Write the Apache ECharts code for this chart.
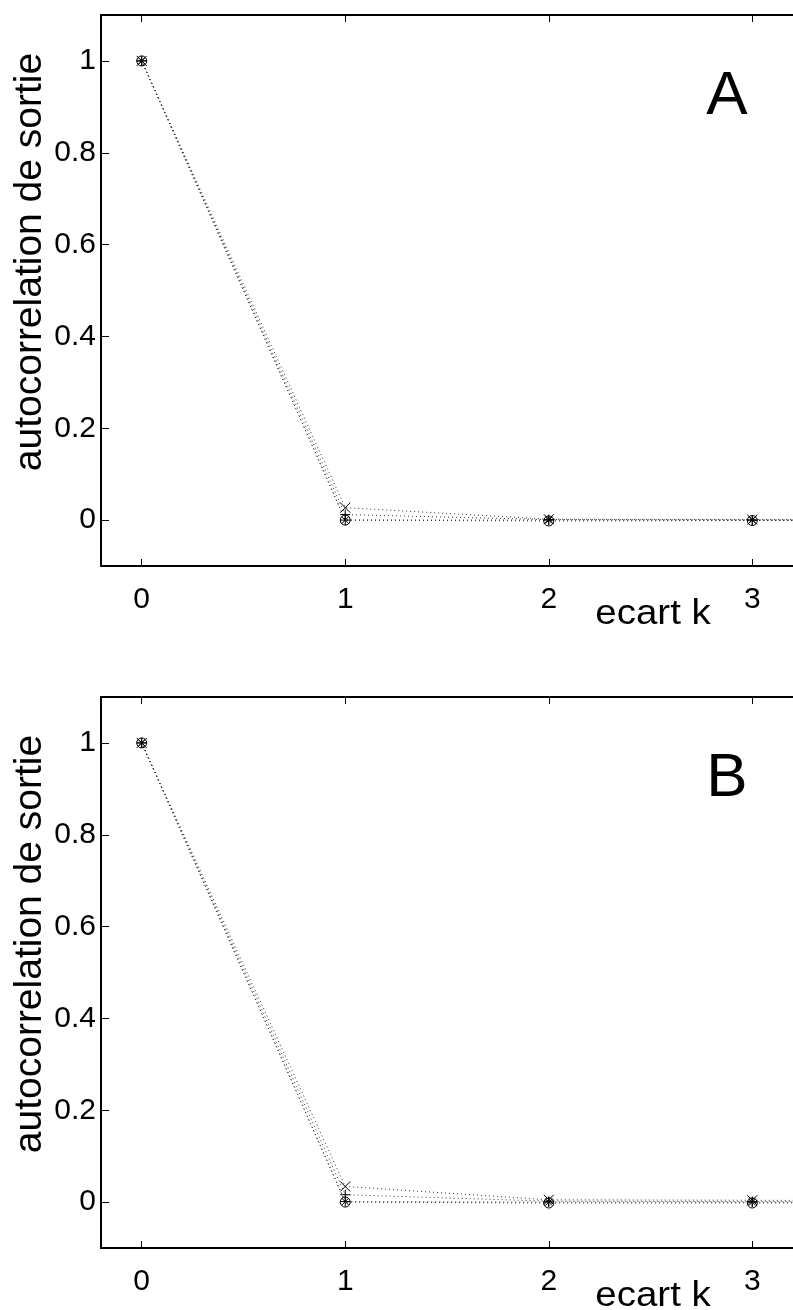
<!DOCTYPE html>
<html>
<head>
<meta charset="utf-8">
<script src="https://cdn.jsdelivr.net/npm/echarts@6/dist/echarts.min.js"></script>
<style>
    html, body { margin: 0; padding: 0; background: #fff; }
    #chart { width: 793px; height: 1310px; }
</style>
</head>
<body>
<div id="chart"></div>
<script>
    // ecart k (le dernier point sort du cadre a droite)
    var lags = [0, 1, 2, 3, 4];
    var xTicks = [0, 1, 2, 3];
    var yTicks = [0, 0.2, 0.4, 0.6, 0.8, 1];

    // panneau A
    var aCross = [1, 0.027, 0.002, 0.001, 0.001];
    var aPlus = [1, 0.012, 0.001, 0.0, 0.0];
    var aCircle = [1, 0.0, -0.002, -0.001, -0.001];
    var aStar = [1, 0.0, 0.0, 0.0, 0.0];

    // panneau B
    var bCross = [1, 0.034, 0.005, 0.004, 0.002];
    var bPlus = [1, 0.016, 0.002, 0.001, 0.001];
    var bCircle = [1, 0.0, -0.002, -0.002, -0.001];
    var bStar = [1, 0.001, 0.0, 0.0, 0.0];

    var FONT = '"Liberation Sans", Arial, Helvetica, sans-serif';
    var symbols = {
        cross: 'path://M0,0L10,10M10,0L0,10',
        plus: 'path://M5,0L5,10M0,5L10,5',
        star: 'path://M5,0L5,10M0,5L10,5M1.5,1.5L8.5,8.5M8.5,1.5L1.5,8.5',
        circle: 'circle'
    };

    function pairs(values) {
        return values.map(function (v, i) { return [lags[i], v]; });
    }

    function makeSeries(idx, values, sym) {
        return {
            type: 'line',
            xAxisIndex: idx * 2,
            yAxisIndex: idx,
            data: pairs(values),
            symbol: symbols[sym],
            symbolSize: 10,
            showAllSymbol: true,
            silent: true,
            animation: false,
            itemStyle: { color: 'none', borderColor: '#000', borderWidth: 1 },
            lineStyle: { color: '#333', width: 1, type: [1, 3] }
        };
    }

    function xAxes(idx) {
        var common = {
            type: 'value',
            gridIndex: idx,
            min: -0.2,
            max: 3.2,
            splitLine: { show: false },
            axisLine: { onZero: false, lineStyle: { color: '#000', width: 2 } },
            axisTick: { inside: true, length: 7, customValues: xTicks, lineStyle: { color: '#000', width: 1 } }
        };
        var bottom = Object.assign({}, common, {
            position: 'bottom',
            axisLabel: { customValues: xTicks, fontSize: 30, fontFamily: FONT, color: '#000', margin: 19 }
        });
        var top = Object.assign({}, common, {
            position: 'top',
            axisLabel: { show: false }
        });
        return [bottom, top];
    }

    function yAxis(idx) {
        return {
            type: 'value',
            gridIndex: idx,
            min: -0.1,
            max: 1.1,
            splitLine: { show: false },
            axisLine: { onZero: false, lineStyle: { color: '#000', width: 2 } },
            axisTick: { inside: true, length: 8, customValues: yTicks, lineStyle: { color: '#000', width: 1 } },
            axisLabel: { customValues: yTicks, fontSize: 30, fontFamily: FONT, color: '#000', margin: 5 }
        };
    }

    function labels(dy, letter) {
        return [
            {
                type: 'text', x: 30, y: 262 + dy, rotation: Math.PI / 2,
                style: { text: 'autocorrelation de sortie', font: '39px ' + FONT, fill: '#000',
                    textAlign: 'center', textVerticalAlign: 'middle' }
            },
            {
                type: 'text', x: 653, y: 614 + dy, scaleX: 1.1,
                style: { text: 'ecart k', font: '35px ' + FONT, fill: '#000',
                    textAlign: 'center', textVerticalAlign: 'middle' }
            },
            {
                type: 'text', x: 727, y: 97 + dy,
                style: { text: letter, font: '62px ' + FONT, fill: '#000',
                    textAlign: 'center', textVerticalAlign: 'middle' }
            }
        ];
    }

    var chart = echarts.init(document.getElementById('chart'), null, { renderer: 'canvas' });
    var option = {
        backgroundColor: '#fff',
        animation: false,
        grid: [
            { left: 101, top: 15, width: 699, height: 551 },
            { left: 101, top: 697, width: 699, height: 551 }
        ],
        xAxis: xAxes(0).concat(xAxes(1)),
        yAxis: [yAxis(0), yAxis(1)],
        series: [
            makeSeries(0, aCross, 'cross'),
            makeSeries(0, aPlus, 'plus'),
            makeSeries(0, aCircle, 'circle'),
            makeSeries(0, aStar, 'star'),
            makeSeries(1, bCross, 'cross'),
            makeSeries(1, bPlus, 'plus'),
            makeSeries(1, bCircle, 'circle'),
            makeSeries(1, bStar, 'star')
        ],
        graphic: labels(0, 'A').concat(labels(682, 'B'))
    };
    chart.setOption(option);
    window.addEventListener('resize', chart.resize);
</script>
</body>
</html>
